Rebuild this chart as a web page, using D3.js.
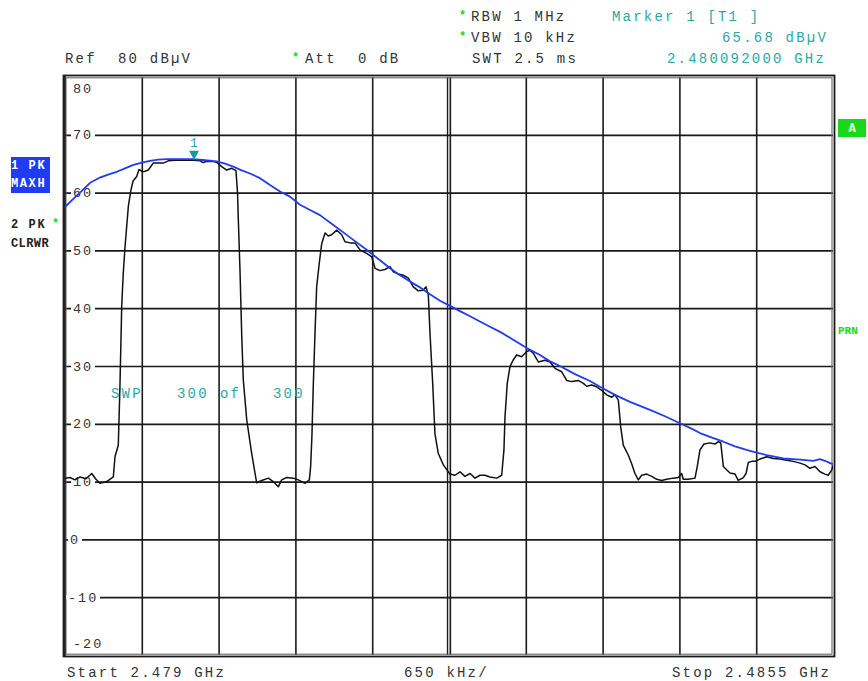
<!DOCTYPE html>
<html><head><meta charset="utf-8">
<script src="https://cdn.jsdelivr.net/npm/d3@7/dist/d3.min.js"></script>
<style>
html,body{margin:0;padding:0;background:#fff;}
svg text{font-family:"Liberation Mono","DejaVu Sans Mono",monospace;white-space:pre;}
</style></head>
<body>
<svg id="chart" width="868" height="681"></svg>
<script>
// ---- data ----
const startMHz = 2479.0;
const stopMHz = 2485.5;
const divMHz = 0.65;
const levelTicks = [80, 70, 60, 50, 40, 30, 20, 10, 0, -10, -20];
const gridLevels = [70, 60, 50, 40, 30, 20, 10, 0, -10];

// Trace 1 (PK MAXH, blue): frequency offset from start (MHz), level (dBµV)
const blueOffsetMHz = [0, 0.059, 0.127, 0.212, 0.296, 0.364, 0.438, 0.508, 0.578, 0.635, 0.719, 0.787, 0.861, 0.973, 1.086, 1.185, 1.284, 1.354, 1.424, 1.490, 1.566, 1.650, 1.735, 1.820, 1.904, 1.989, 2.074, 2.158, 2.271, 2.370, 2.454, 2.553, 2.666, 2.751, 2.835, 2.920, 3.005, 3.089, 3.174, 3.258, 3.343, 3.428, 3.512, 3.597, 3.682, 3.766, 3.908, 4.020, 4.105, 4.189, 4.316, 4.443, 4.528, 4.655, 4.782, 4.951, 5.078, 5.214, 5.290, 5.374, 5.476, 5.572, 5.671, 5.797, 5.939, 6.079, 6.221, 6.333, 6.390, 6.432, 6.475, 6.500];
const blueLevel = [57.5, 58.7, 60.0, 61.7, 62.6, 63.1, 63.6, 64.2, 64.8, 65.1, 65.5, 65.7, 65.8, 65.8, 65.8, 65.6, 65.4, 65.0, 64.5, 63.9, 63.3, 62.5, 61.3, 60.2, 59.3, 57.9, 57.0, 56.1, 54.4, 52.9, 51.6, 50.1, 48.3, 46.9, 45.7, 44.6, 43.6, 42.4, 41.3, 40.4, 39.5, 38.6, 37.7, 36.8, 35.9, 34.9, 33.1, 31.9, 30.8, 30.0, 28.6, 27.4, 26.4, 25.0, 23.8, 22.4, 21.3, 20.0, 19.3, 18.4, 17.6, 16.9, 16.1, 15.3, 14.6, 14.0, 13.8, 13.6, 13.9, 13.6, 13.2, 13.0];

// Trace 2 (PK CLRWR, black)
const blackOffsetMHz = [0, 0.042, 0.085, 0.127, 0.178, 0.226, 0.262, 0.296, 0.353, 0.409, 0.423, 0.451, 0.465, 0.480, 0.493, 0.508, 0.536, 0.556, 0.576, 0.607, 0.626, 0.635, 0.658, 0.677, 0.705, 0.747, 0.832, 0.874, 0.931, 1.058, 1.086, 1.143, 1.170, 1.202, 1.255, 1.286, 1.326, 1.369, 1.411, 1.447, 1.460, 1.467, 1.481, 1.496, 1.509, 1.538, 1.580, 1.622, 1.665, 1.721, 1.763, 1.805, 1.834, 1.876, 1.932, 1.975, 2.031, 2.068, 2.079, 2.090, 2.101, 2.116, 2.130, 2.152, 2.173, 2.201, 2.228, 2.257, 2.300, 2.342, 2.370, 2.412, 2.454, 2.497, 2.553, 2.596, 2.624, 2.666, 2.708, 2.751, 2.779, 2.821, 2.863, 2.906, 2.948, 2.990, 3.032, 3.055, 3.075, 3.089, 3.112, 3.131, 3.159, 3.202, 3.258, 3.301, 3.343, 3.385, 3.428, 3.470, 3.512, 3.555, 3.597, 3.654, 3.696, 3.715, 3.724, 3.743, 3.766, 3.792, 3.823, 3.865, 3.908, 3.936, 3.964, 4.006, 4.062, 4.105, 4.147, 4.204, 4.246, 4.288, 4.344, 4.387, 4.415, 4.458, 4.500, 4.542, 4.585, 4.627, 4.655, 4.683, 4.703, 4.725, 4.767, 4.796, 4.824, 4.852, 4.881, 4.923, 4.966, 5.008, 5.050, 5.092, 5.148, 5.191, 5.219, 5.233, 5.275, 5.332, 5.351, 5.374, 5.408, 5.459, 5.501, 5.529, 5.550, 5.572, 5.628, 5.671, 5.698, 5.741, 5.764, 5.783, 5.812, 5.840, 5.882, 5.939, 5.995, 6.051, 6.108, 6.164, 6.221, 6.263, 6.305, 6.348, 6.390, 6.432, 6.460, 6.489, 6.500];
const blackLevel = [10.6, 10.7, 10.3, 10.8, 10.5, 11.4, 10.4, 9.7, 10.0, 10.8, 14.3, 16.3, 26.4, 40.3, 46.0, 50.6, 57.6, 60.2, 62.0, 62.8, 64.0, 63.9, 63.6, 63.7, 63.9, 65.1, 65.1, 65.5, 65.6, 65.6, 65.6, 65.5, 65.2, 65.4, 65.4, 65.2, 64.5, 63.9, 64.2, 63.8, 60.0, 55.3, 46.6, 35.1, 27.6, 20.7, 14.9, 9.8, 10.2, 10.6, 10.0, 9.1, 10.3, 10.7, 10.6, 10.3, 9.7, 10.3, 12.6, 18.0, 26.4, 35.7, 43.7, 47.8, 51.2, 53.0, 52.5, 52.7, 53.5, 52.7, 51.5, 51.3, 51.3, 50.1, 49.5, 48.9, 46.9, 46.5, 46.7, 47.2, 46.3, 45.9, 45.7, 45.2, 43.7, 43.0, 43.1, 43.7, 42.3, 35.7, 27.0, 18.3, 14.9, 12.9, 11.3, 11.1, 11.7, 10.9, 11.4, 10.6, 11.1, 11.1, 10.8, 10.6, 11.1, 15.5, 21.2, 27.0, 29.9, 31.0, 31.9, 31.6, 32.5, 32.7, 32.2, 30.7, 31.0, 30.7, 29.6, 29.0, 27.5, 27.3, 27.5, 27.0, 26.5, 26.7, 26.4, 25.8, 25.0, 24.6, 25.0, 24.1, 19.5, 16.3, 14.6, 13.1, 11.4, 10.3, 11.1, 11.3, 10.9, 10.4, 10.2, 10.4, 10.6, 10.7, 11.4, 10.4, 10.4, 10.6, 12.6, 15.5, 16.5, 16.7, 16.5, 16.9, 16.7, 12.6, 11.5, 11.3, 10.2, 10.7, 11.4, 13.3, 13.5, 13.5, 13.9, 14.3, 14.0, 13.9, 13.7, 13.5, 13.2, 12.9, 12.3, 12.6, 11.7, 11.3, 11.1, 12.0, 12.8];

const markerFreqMHz = [2480.092];
const markerLevel = [65.68];

const headerLeft = ["Ref  80 dBµV", "Att  0 dB"];
const headerSettings = ["RBW 1 MHz", "VBW 10 kHz", "SWT 2.5 ms"];
const markerInfo = ["Marker 1 [T1 ]", "65.68 dBµV", "2.480092000 GHz"];
const footer = ["Start 2.479 GHz", "650 kHz/", "Stop 2.4855 GHz"];
const sweepText = ["SWP", "300", "of", "300"];

// ---- drawing ----
const svg = d3.select("#chart");
const L = 65, R = 833, T = 77, B = 655;
const x = d3.scaleLinear().domain([startMHz, stopMHz]).range([L, R]);
const y = d3.scaleLinear().domain([-20, 80]).range([B, T]);
const TEXT = "#333";
const TEAL = "#2aa8a8";
const BLUE = "#1f3cf2";
const GREEN = "#19d819";

svg.append("rect").attr("width", 868).attr("height", 681).attr("fill", "#fff");

// grid via axes
const vTicks = d3.range(1, 10).map(i => startMHz + i * divMHz);
const gx = svg.append("g").attr("transform", `translate(0,${B})`)
  .call(d3.axisBottom(x).tickValues(vTicks).tickSize(-(B - T)).tickFormat(""));
gx.select(".domain").remove();
gx.selectAll("line").attr("stroke", "#1a1a1a").attr("stroke-width", 1.6);
// center line doubled
const cx = x(startMHz + 5 * divMHz);
[-1.5, 1.5].forEach(o => svg.append("line").attr("x1", cx + o).attr("x2", cx + o)
  .attr("y1", T).attr("y2", B).attr("stroke", "#1a1a1a").attr("stroke-width", 1.3));
gx.selectAll(".tick").filter(d => Math.abs(d - (startMHz + 5 * divMHz)) < 1e-6).select("line")
  .attr("stroke", "#aaa").attr("stroke-width", 1.6);

const gy = svg.append("g").attr("transform", `translate(${L},0)`)
  .call(d3.axisLeft(y).tickValues(gridLevels).tickSize(-(R - L)).tickFormat(""));
gy.select(".domain").remove();
gy.selectAll("line").attr("stroke", "#1a1a1a").attr("stroke-width", 1.7);

// frame
svg.append("rect").attr("x", 63.5).attr("y", 75.5).attr("width", 771).attr("height", 581)
  .attr("fill", "none").attr("stroke", "#1a1a1a").attr("stroke-width", 1.8);
svg.append("rect").attr("x", 66).attr("y", 77.8).attr("width", 766).attr("height", 576.4)
  .attr("fill", "none").attr("stroke", "#666").attr("stroke-width", 1.1);
svg.append("line").attr("x1", 64.6).attr("x2", 64.6).attr("y1", 75).attr("y2", 657)
  .attr("stroke", "#222").attr("stroke-width", 2.4);

// y labels
levelTicks.forEach(v => {
  const lbl = String(v);
  let xs = 73;
  if (v === 0) xs = 70;
  else if (v === -10) xs = 68;
  let by = y(v) + 4.5;
  if (v === 80) by = 93;
  if (v === -20) by = 648;
  if (v !== 80 && v !== -20) {
    const w = lbl.length * 10 + 1;
    svg.append("rect").attr("x", xs - 2).attr("y", y(v) - 2).attr("width", w + 3).attr("height", 4).attr("fill", "#fff");
  }
  svg.append("text").attr("x", xs).attr("y", by).text(lbl)
    .attr("font-size", 13.5).attr("fill", TEXT).style("letter-spacing", "2px");
});

// traces
svg.append("clipPath").attr("id", "clip").append("rect")
  .attr("x", L).attr("y", T).attr("width", R - L).attr("height", B - T);
const line = d3.line().x(d => x(startMHz + d[0])).y(d => y(d[1]));
svg.append("path").datum(blackOffsetMHz.map((f, i) => [f, blackLevel[i]]))
  .attr("clip-path", "url(#clip)")
  .attr("d", line).attr("fill", "none").attr("stroke", "#111").attr("stroke-width", 1.5)
  .attr("stroke-linejoin", "round");
svg.append("path").datum(blueOffsetMHz.map((f, i) => [f, blueLevel[i]]))
  .attr("clip-path", "url(#clip)")
  .attr("d", line).attr("fill", "none").attr("stroke", BLUE).attr("stroke-width", 1.8)
  .attr("stroke-linejoin", "round");

// marker
markerFreqMHz.forEach((f, i) => {
  const mx = x(f), my = y(markerLevel[i]);
  svg.append("path").attr("d", `M${mx - 5},${my - 9}L${mx + 5},${my - 9}L${mx},${my}Z`).attr("fill", "#139a9a");
  svg.append("text").attr("x", mx).attr("y", my - 13).attr("text-anchor", "middle")
    .attr("font-size", 13).attr("fill", TEAL).text(String(i + 1));
});

// header texts
const hfs = 14, ls = "2.2px";
function txt(xp, yp, s, color, size) {
  return svg.append("text").attr("x", xp).attr("y", yp).text(s)
    .attr("font-size", size || hfs).attr("fill", color || TEXT).style("letter-spacing", ls);
}
function star(xp, yp) {
  svg.append("text").attr("x", xp).attr("y", yp).text("*").attr("font-size", 12)
    .attr("font-weight", "bold").attr("fill", GREEN);
}
txt(65, 63, headerLeft[0]);
star(292, 61); txt(305, 63, headerLeft[1]);
star(459, 19); txt(471, 21, headerSettings[0]);
star(459, 40); txt(471, 42, headerSettings[1]);
txt(472, 63, headerSettings[2]);
txt(612, 21, markerInfo[0], TEAL);
txt(722, 42, markerInfo[1], TEAL);
txt(667, 63, markerInfo[2], TEAL);

// footer
txt(67, 677, footer[0]);
txt(404, 677, footer[1]);
txt(672, 677, footer[2]);

// sweep text
const swX = [111, 177, 220, 273];
sweepText.forEach((s, i) => txt(swX[i], 398, s, TEAL));

// left trace labels
svg.append("rect").attr("x", 11).attr("y", 157).attr("width", 39).attr("height", 36).attr("fill", BLUE);
svg.append("text").attr("x", 11).attr("y", 169).text("1 PK").attr("font-size", 12).attr("font-weight", "bold")
  .attr("fill", "#fff").style("letter-spacing", "1.6px");
svg.append("text").attr("x", 11).attr("y", 187).text("MAXH").attr("font-size", 12).attr("font-weight", "bold")
  .attr("fill", "#fff").style("letter-spacing", "1.6px");
svg.append("text").attr("x", 11).attr("y", 228).text("2 PK").attr("font-size", 12).attr("font-weight", "bold")
  .attr("fill", "#222").style("letter-spacing", "1.6px");
star(52, 227);
svg.append("text").attr("x", 11).attr("y", 247).text("CLRWR").attr("font-size", 12).attr("font-weight", "bold")
  .attr("fill", "#222").style("letter-spacing", "0.4px");

// right side
svg.append("rect").attr("x", 838).attr("y", 119).attr("width", 28).attr("height", 18).attr("fill", GREEN);
svg.append("text").attr("x", 852).attr("y", 132).attr("text-anchor", "middle").text("A")
  .attr("font-size", 12).attr("font-weight", "bold").attr("fill", "#fff");
svg.append("text").attr("x", 838).attr("y", 334).text("PRN")
  .attr("font-size", 11).attr("font-weight", "bold").attr("fill", GREEN);
</script>
</body></html>
